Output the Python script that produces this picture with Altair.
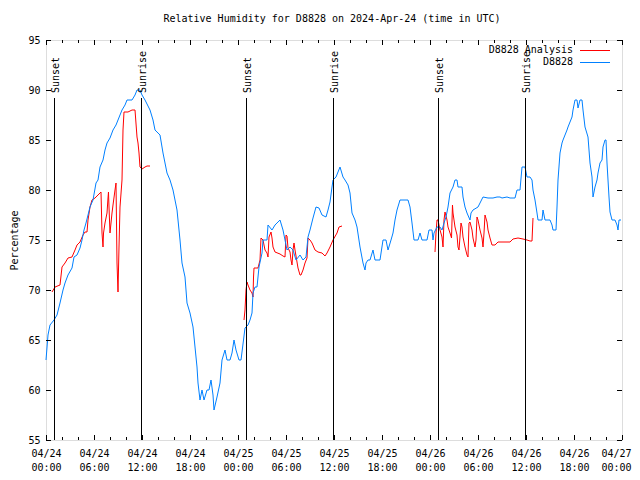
import altair as alt
import pandas as pd

# ---- data (hours since 2024-04-24 00:00 UTC) ----
obs_hours = [0, 0.25, 0.5, 1.0, 1.375, 1.75, 2.125, 2.375, 2.75, 3.25, 3.5, 3.875, 4.25, 4.5, 4.75, 5.0,
             5.25, 5.5, 5.875, 6.25, 6.5, 6.75, 7.125, 7.375, 7.625, 8.0, 8.375, 8.75, 9.0, 9.5, 9.875,
             10.125, 10.75, 11.125, 11.375, 11.75, 12.0, 12.375, 13.0, 13.375, 13.625, 14.25, 14.625,
             15.125, 15.5, 15.875, 16.375, 16.75, 17.0, 17.375, 17.625, 18.0, 18.375, 18.625, 18.875,
             19.0, 19.25, 19.5, 19.75, 20.125, 20.375, 20.625, 20.875, 21.0, 21.375, 21.75, 22.0, 22.375,
             22.625, 23.0, 23.25, 23.5, 23.75, 24.125, 24.375, 24.875, 25.25, 25.5, 25.75, 25.875, 26.125,
             26.375, 26.625, 27.0, 27.125, 27.375, 27.625, 27.75, 28.25, 28.625, 29.25, 29.625, 29.875,
             30.125, 30.5, 30.875, 31.25, 31.75, 32.125, 32.5, 32.75, 33.0, 33.375, 33.75, 34.125, 34.5,
             35.0, 35.25, 35.5, 35.75, 35.875, 36.25, 36.75, 37.125, 37.375, 37.75, 38.0, 38.25, 38.625,
             38.875, 39.25, 39.625, 39.875, 40.0, 40.25, 40.5, 40.875, 41.125, 41.75, 42.125, 42.5, 42.75,
             43.125, 43.375, 43.625, 43.875, 44.25, 44.875, 45.25, 45.5, 45.75, 46.0, 46.5, 46.75, 47.0,
             47.625, 47.875, 48.25, 48.375, 48.5, 48.875, 49.25, 49.5, 49.75, 50.0, 50.25, 50.5, 50.875,
             51.125, 51.375, 51.5, 52.0, 52.125, 52.375, 52.625, 53.0, 53.125, 53.375, 54.0, 54.25, 54.625,
             55.25, 55.875, 56.375, 56.75, 57.0, 57.625, 58.0, 58.625, 58.875, 59.25, 59.5, 59.875, 60.125,
             60.5, 60.75, 60.875, 61.125, 61.375, 61.5, 62.0, 62.125, 62.375, 63.0, 63.25, 63.375, 63.75,
             63.875, 64.0, 64.25, 64.5, 64.625, 65.125, 65.25, 65.75, 65.875, 66.125, 66.375, 66.5, 66.75,
             67.0, 67.125, 67.375, 67.75, 68.0, 68.25, 68.375, 68.625, 68.875, 69.0, 69.25, 69.5, 69.625,
             69.875, 70.0, 70.125, 70.25, 70.375, 70.5, 70.75, 71.125, 71.375, 71.5, 71.625, 71.875]
obs_values = [63.0, 65.5, 66.5, 67.0, 67.5, 68.7, 70.0, 70.7, 71.5, 72.2, 73.3, 73.5, 74.2, 75.0, 76.0, 76.7,
              77.5, 78.3, 79.0, 80.7, 81.0, 82.3, 83.0, 84.0, 84.7, 85.2, 86.0, 86.5, 87.0, 88.0, 88.5,
              89.0, 89.0, 89.5, 90.0, 90.0, 89.5, 89.0, 88.0, 87.0, 86.0, 85.5, 83.7,
              81.7, 81.0, 80.0, 78.0, 75.0, 72.7, 71.3, 68.7, 67.7, 66.3, 64.3, 62.3,
              60.7, 59.0, 60.0, 59.0, 60.0, 60.0, 61.0, 59.5, 58.0, 59.3, 60.7, 63.0, 64.0,
              63.0, 63.0, 63.7, 65.0, 64.0, 63.0, 63.0, 66.2, 66.5, 67.0, 67.7, 69.7, 70.3,
              70.3, 72.3, 73.7, 75.0, 75.0, 75.0, 76.5, 76.0, 76.5, 77.0, 76.0, 75.0,
              74.0, 74.3, 74.0, 73.0, 73.5, 73.0, 73.3, 75.3, 76.0, 77.2, 78.3, 78.2, 77.5,
              77.3, 78.0, 78.8, 80.3, 81.0, 81.3, 82.3, 81.3, 81.0, 80.5, 79.7, 77.7, 77.0,
              76.3, 74.3, 72.7, 72.0, 72.7, 73.0, 73.0, 74.0, 73.0, 73.0, 75.0, 75.0, 74.0,
              75.0, 75.7, 77.0, 78.0, 79.0, 79.0, 79.0, 78.3, 76.7, 75.0, 75.0, 75.7, 75.0,
              75.0, 76.0, 76.0, 75.0, 75.7, 76.3, 76.3, 76.0, 76.7, 77.3, 78.3, 79.7, 80.3,
              81.0, 81.0, 80.3, 80.3, 79.3, 78.3, 77.7, 77.0, 77.7, 78.0, 78.3, 78.7, 79.3,
              79.2, 79.2, 79.3, 79.3, 79.2, 79.3, 79.2, 79.2, 80.0, 80.0, 82.3, 82.3, 81.3,
              81.3, 81.0, 80.0, 79.0, 77.7, 77.0, 77.0, 78.0, 77.0, 77.0, 76.5, 76.0, 76.0,
              78.3, 81.0, 83.7, 84.7, 85.0, 86.0, 86.3, 87.3, 88.0, 89.0, 89.0, 88.2, 89.0,
              89.0, 88.0, 86.3, 85.3, 82.7, 81.3, 79.3, 80.3, 81.0, 81.7, 82.7, 83.0, 84.3,
              85.0, 85.0, 82.7, 81.0, 79.3, 77.8, 77.0, 77.0, 76.5, 76.0, 77.0, 77.0]

ana_hours_1 = [0.75, 1.125, 1.75, 2.0, 2.375, 2.75, 3.25, 3.625, 3.875, 4.25, 4.625, 4.875, 5.125, 5.25,
               5.5, 5.75, 6.125, 6.75, 6.875, 7.0, 7.125, 7.19, 7.375, 7.625, 7.75, 7.81, 7.875, 8.0,
               8.125, 8.25, 8.375, 8.625, 8.75, 8.875, 9.0, 9.125, 9.25, 9.5, 9.625, 9.75, 10.25, 10.75,
               11.125, 11.375, 11.5, 11.625, 11.75, 12.0, 12.375, 12.625, 13.0]
ana_values_1 = [69.8, 70.3, 70.5, 72.3, 72.7, 73.2, 73.3, 74.0, 74.5, 74.8, 75.5, 75.8, 75.8, 77.0,
                78.3, 79.0, 79.2, 79.7, 79.8, 75.7, 74.3, 75.7, 76.7, 77.7, 79.2, 79.8, 78.3, 75.7,
                76.7, 77.7, 78.5, 80.0, 80.7, 72.7, 69.8, 74.3, 78.3, 81.0, 86.0, 87.8, 87.8, 88.0,
                88.0, 85.3, 84.7, 83.7, 82.3, 82.1, 82.3, 82.4, 82.4]
ana_hours_2 = [24.75, 24.875, 25.0, 25.125, 25.25, 25.5, 25.75, 25.875, 25.94, 26.0, 26.5, 26.75, 26.875,
               27.125, 27.375, 27.625, 27.75, 27.875, 28.125, 28.25, 28.375, 28.625, 29.25, 29.625,
               29.875, 30.0, 30.125, 30.25, 30.5, 30.625, 30.75, 30.875, 31.0, 31.125, 31.375, 31.5,
               31.75, 31.875, 32.125, 32.375, 32.625, 32.75, 33.0, 33.25, 33.625, 34.0, 34.5, 34.875,
               35.125, 35.5, 35.875, 36.375, 36.625, 37.0]
ana_values_2 = [67.0, 68.0, 70.0, 70.8, 70.5, 70.0, 69.7, 69.3, 71.3, 72.2, 72.2, 73.0, 75.2,
                75.0, 74.0, 73.7, 73.3, 75.3, 75.8, 75.2, 74.3, 73.8, 73.6, 73.4,
                73.3, 75.5, 75.4, 74.2, 73.8, 73.0, 72.5, 74.0, 74.7, 74.0, 72.8, 72.2,
                71.5, 71.5, 72.0, 72.7, 73.2, 75.2, 75.0, 74.7, 74.0, 73.8, 73.7, 73.4,
                73.7, 74.3, 75.0, 75.7, 76.3, 76.4]
ana_hours_3 = [48.625, 48.75, 48.875, 49.0, 49.25, 49.5, 49.625, 49.75, 49.875, 50.125, 50.25, 50.5,
               50.69, 50.81, 50.875, 51.125, 51.375, 51.5, 51.625, 51.875, 52.0, 52.125, 52.375, 52.625,
               52.75, 52.875, 53.0, 53.25, 53.375, 53.625, 53.75, 53.875, 54.0, 54.25, 54.5, 54.625,
               54.75, 54.875, 55.125, 55.25, 55.5, 55.75, 56.125, 56.5, 57.0, 58.0, 58.375, 59.0,
               59.625, 60.125, 60.5, 60.75, 60.81, 60.875]
ana_values_3 = [73.8, 75.7, 77.0, 77.0, 76.0, 75.3, 74.3, 77.0, 77.8, 77.0, 76.3, 75.7,
                75.2, 78.5, 77.7, 76.3, 75.5, 74.3, 74.0, 76.7, 76.3, 75.3, 74.3, 73.5,
                73.3, 76.7, 76.8, 76.0, 75.2, 74.3, 75.0, 77.3, 77.0, 76.0, 75.2, 74.3,
                75.7, 77.5, 76.8, 76.0, 75.2, 74.5, 74.5, 74.8, 74.8, 74.8, 75.1, 75.2,
                75.1, 75.0, 74.9, 74.9, 76.0, 77.2]

event_hours = [1.0, 11.875, 25.0, 35.875, 49.0, 59.875]
event_labels = ["Sunset", "Sunrise", "Sunset", "Sunrise", "Sunset", "Sunrise"]

series_names = ["D8828 Analysis", "D8828"]
series_colors = ["#ff0000", "#0080ff"]

title_text = ["Relative Humidity for D8828 on 2024-Apr-24 (time in UTC)"]

major_x = list(range(0, 73, 6))
minor_x = [h for h in range(0, 73, 2) if h % 6 != 0]
major_y = list(range(55, 96, 5))

FONT = "DejaVu Sans Mono"
W, H = 576, 400

obs = pd.DataFrame({"h": obs_hours, "v": obs_values})
ana = pd.concat([
    pd.DataFrame({"h": ana_hours_1, "v": ana_values_1, "seg": 1}),
    pd.DataFrame({"h": ana_hours_2, "v": ana_values_2, "seg": 2}),
    pd.DataFrame({"h": ana_hours_3, "v": ana_values_3, "seg": 3}),
])
events = pd.DataFrame({"h": event_hours, "label": event_labels})

xscale = alt.Scale(domain=[0, 72], nice=False, zero=False)
yscale = alt.Scale(domain=[55, 95], nice=False, zero=False)

label_expr = ("['04/' + (24 + floor(datum.value / 24)), "
              "((datum.value % 24) < 10 ? '0' : '') + (datum.value % 24) + ':00']")

xaxis = alt.Axis(values=major_x, labelExpr=label_expr, title=None, ticks=False, tickSize=0,
                 domain=False, grid=False, labelFont=FONT, labelFontSize=10, labelColor="black",
                 labelLineHeight=14, labelPadding=13, labelBaseline="middle", labelFlush=False,
                 labelOffset={"condition": {"test": "datum.value == 72", "value": -6}, "value": 0})
yaxis = alt.Axis(values=major_y, title="Percentage", ticks=False, tickSize=0, domain=False, grid=False,
                 labelFont=FONT, labelFontSize=10, labelColor="black", labelPadding=6,
                 titleFont=FONT, titleFontSize=10, titleFontWeight="normal", titleColor="black",
                 titleX=-32, titleY=H / 2, titleAngle=270, titleAlign="center", titleBaseline="middle")

red = alt.Chart(ana).mark_line(color=series_colors[0], strokeWidth=1).encode(
    x=alt.X("h:Q", scale=xscale, axis=xaxis),
    y=alt.Y("v:Q", scale=yscale, axis=yaxis),
    detail="seg:N",
    order="h:Q",
)
blue = alt.Chart(obs).mark_line(color=series_colors[1], strokeWidth=1).encode(
    x=alt.X("h:Q", scale=xscale),
    y=alt.Y("v:Q", scale=yscale),
    order="h:Q",
)
ev_rule = alt.Chart(events).mark_rule(color="black", strokeWidth=1, xOffset=0.5).encode(
    x=alt.X("h:Q", scale=xscale),
    y=alt.datum(89.2),
    y2=alt.datum(55),
)
ev_text = alt.Chart(events).mark_text(angle=270, align="left", baseline="middle", dy=2,
                                      font=FONT, fontSize=10, color="black").encode(
    x=alt.X("h:Q", scale=xscale),
    y=alt.datum(89.7),
    text="label:N",
)

# inward ticks (gnuplot style), mirrored on all sides
mx = pd.DataFrame({"h": major_x})
mn = pd.DataFrame({"h": minor_x})
my = pd.DataFrame({"v": major_y})
tick_layers = []
for df, ln in ((mx, 5), (mn, 3)):
    tick_layers.append(alt.Chart(df).mark_rule(color="black", strokeWidth=1, xOffset=0.5).encode(
        x=alt.X("h:Q", scale=xscale), y=alt.value(H), y2=alt.value(H - ln)))
    tick_layers.append(alt.Chart(df).mark_rule(color="black", strokeWidth=1, xOffset=0.5).encode(
        x=alt.X("h:Q", scale=xscale), y=alt.value(0), y2=alt.value(ln)))
tick_layers.append(alt.Chart(my).mark_rule(color="black", strokeWidth=1, yOffset=0.5).encode(
    y=alt.Y("v:Q", scale=yscale), x=alt.value(0), x2=alt.value(5)))
tick_layers.append(alt.Chart(my).mark_rule(color="black", strokeWidth=1, yOffset=0.5).encode(
    y=alt.Y("v:Q", scale=yscale), x=alt.value(W), x2=alt.value(W - 5)))

# key (top right, gnuplot style: text then sample line)
leg = pd.DataFrame({"name": series_names, "color": series_colors, "row": [0, 1]})
leg_layers = []
for i, (nm, col) in enumerate(zip(series_names, series_colors)):
    row = leg[leg["row"] == i]
    leg_layers.append(alt.Chart(row).mark_text(align="right", baseline="middle", font=FONT,
                                               fontSize=10, color="black").encode(
        x=alt.value(527), y=alt.value(10 + 12 * i), text="name:N"))
    leg_layers.append(alt.Chart(row).mark_rule(color=col, strokeWidth=1, yOffset=0.5).encode(
        x=alt.value(534), x2=alt.value(564), y=alt.value(10 + 12 * i)))

# title as a text mark above the plot frame
title_layer = alt.Chart(pd.DataFrame({"t": title_text})).mark_text(
    align="center", baseline="middle", font=FONT, fontSize=10, color="black").encode(
    x=alt.value(W / 2 - 2), y=alt.value(-21), text="t:N")

chart = alt.layer(red, blue, ev_rule, ev_text, *tick_layers, *leg_layers, title_layer).properties(
    width=W, height=H,
    autosize=alt.AutoSizeParams(type="none"),
    padding={"left": 38, "top": 32, "right": 10, "bottom": 32},
).configure_view(stroke="black", strokeWidth=1).configure(background="white")

chart.save("out.html", embed_options={"renderer": "svg", "actions": False})
